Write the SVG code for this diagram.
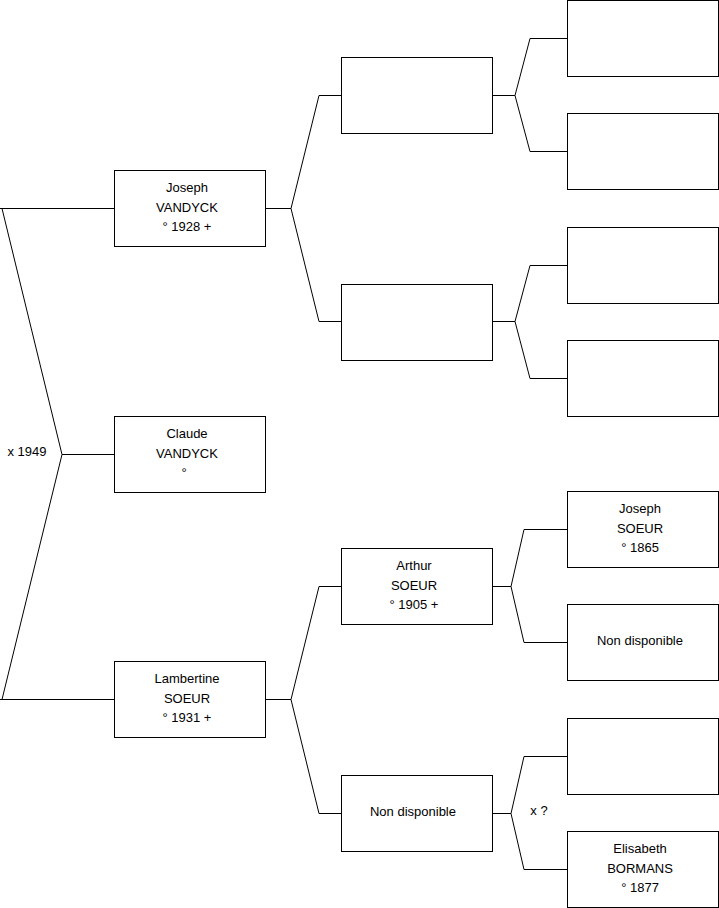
<svg xmlns="http://www.w3.org/2000/svg" width="719" height="908" viewBox="0 0 719 908">
<style>
.box{fill:#fff;stroke:#000;stroke-width:1}
.c{fill:none;stroke:#000;stroke-width:1}
text{font-family:"Liberation Sans",Arial,sans-serif;font-size:13px;fill:#000;text-anchor:middle}
</style>
<rect width="719" height="908" fill="#fff"/>
<g id="connectors">
<path class="c" d="M0 208.5H114.5M2 208.5L62 454.5L2 699.5M62 454.5H114.5M0 699.5H114.5"/>
<path class="c" d="M265.5 208.5H291L319 95.5H341.5M291 208.5L319 321.5H341.5"/>
<path class="c" d="M492.5 95.5H515L530 38.5H567.5M515 95.5L530 151.5H567.5"/>
<path class="c" d="M492.5 321.5H515L530 265.5H567.5M515 321.5L530 378.5H567.5"/>
<path class="c" d="M265.5 699.5H291L319 586.5H341.5M291 699.5L319 813.5H341.5"/>
<path class="c" d="M492.5 586.5H511L524 529.5H567.5M511 586.5L524 642.5H567.5"/>
<path class="c" d="M492.5 813.5H511L524 756.5H567.5M511 813.5L524 869.5H567.5"/>
<text x="27" y="456">x 1949</text>
<text x="539" y="815">x ?</text>
</g>
<g id="joseph-vandyck"><rect class="box" x="114.5" y="170.5" width="151" height="76"/><text x="187" y="191.5">Joseph</text><text x="187" y="211.5">VANDYCK</text><text x="187" y="231">° 1928 +</text></g>
<g id="claude-vandyck"><rect class="box" x="114.5" y="416.5" width="151" height="76"/><text x="187" y="437.5">Claude</text><text x="187" y="457.5">VANDYCK</text><text x="184" y="477">°</text></g>
<g id="lambertine-soeur"><rect class="box" x="114.5" y="661.5" width="151" height="76"/><text x="187" y="682.5">Lambertine</text><text x="187" y="702.5">SOEUR</text><text x="187" y="722">° 1931 +</text></g>
<g id="p-vandyck-father"><rect class="box" x="341.5" y="57.5" width="151" height="76"/></g>
<g id="p-vandyck-mother"><rect class="box" x="341.5" y="284.5" width="151" height="76"/></g>
<g id="arthur-soeur"><rect class="box" x="341.5" y="548.5" width="151" height="76"/><text x="414" y="569.5">Arthur</text><text x="414" y="589.5">SOEUR</text><text x="414" y="609">° 1905 +</text></g>
<g id="soeur-mother"><rect class="box" x="341.5" y="775.5" width="151" height="76"/><text x="413" y="816">Non disponible</text></g>
<g id="g3-1"><rect class="box" x="567.5" y="0.5" width="151" height="76"/></g>
<g id="g3-2"><rect class="box" x="567.5" y="113.5" width="151" height="76"/></g>
<g id="g3-3"><rect class="box" x="567.5" y="227.5" width="151" height="76"/></g>
<g id="g3-4"><rect class="box" x="567.5" y="340.5" width="151" height="76"/></g>
<g id="joseph-soeur"><rect class="box" x="567.5" y="491.5" width="151" height="76"/><text x="640" y="512.5">Joseph</text><text x="640" y="532.5">SOEUR</text><text x="640" y="552">° 1865</text></g>
<g id="g3-6"><rect class="box" x="567.5" y="604.5" width="151" height="76"/><text x="640" y="645">Non disponible</text></g>
<g id="g3-7"><rect class="box" x="567.5" y="718.5" width="151" height="76"/></g>
<g id="elisabeth-bormans"><rect class="box" x="567.5" y="831.5" width="151" height="76"/><text x="640" y="852.5">Elisabeth</text><text x="640" y="872.5">BORMANS</text><text x="640" y="892">° 1877</text></g>
</svg>
